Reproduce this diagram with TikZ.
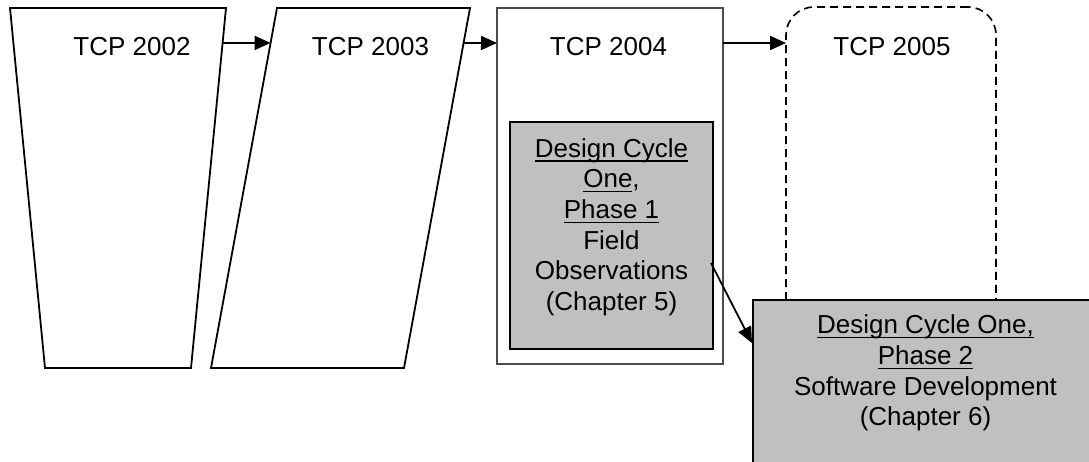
\documentclass[tikz,border=0pt]{standalone}
\usepackage{fontspec}
\setmainfont{Liberation Sans}
\usetikzlibrary{arrows.meta,calc}
\definecolor{panel}{HTML}{C0C0C0}
% underline at a fixed depth below the baseline
\newcommand\ulbox[1]{\sbox0{#1}\rlap{\rule[-4.6pt]{\wd0}{1.4pt}}\usebox0}
\begin{document}
\begin{tikzpicture}[x=1pt,y=-1pt,
  outline/.style={draw=black,line width=1.8pt,line join=miter},
  arr/.style={line width=1.8pt,-{Triangle[length=16pt,width=14pt]}},
  lbl/.style={font=\fontsize{26}{30.7}\selectfont,inner sep=0pt},
  panelbox/.style={draw=black,line width=1.8pt,fill=panel,inner sep=0pt,outer sep=0pt},
]
\clip (0,0) rectangle (1089,462);
\fill[white] (0,0) rectangle (1089,462);

% TCP 2002: trapezium, wide at the top
\coordinate (a1) at (10,8);
\coordinate (a2) at (226,8);
\coordinate (a3) at (191,368);
\coordinate (a4) at (45,368);
\draw[outline] (a1)--(a2)--(a3)--(a4)--cycle;

% TCP 2003: parallelogram leaning right
\coordinate (b1) at (277,8);
\coordinate (b2) at (470,8);
\coordinate (b3) at (404,368);
\coordinate (b4) at (211,368);
\draw[outline] (b1)--(b2)--(b3)--(b4)--cycle;

% TCP 2004: plain frame
\node[draw=black!70,line width=1.3pt,minimum width=226pt,minimum height=356pt,
      inner sep=0pt,outer sep=0pt] (c) at (610,186) {};

% TCP 2005: dashed rounded frame
\node[draw=black,line width=1.6pt,dash pattern=on 8pt off 5pt,rounded corners=28pt,
      minimum width=210pt,minimum height=433pt,inner sep=0pt,outer sep=0pt] (e) at (891,223.5) {};

% year labels
\node[lbl,anchor=base] (t2002) at (132,56) {TCP 2002};
\node[lbl,anchor=base] (t2003) at (370.5,56) {TCP 2003};
\node[lbl,anchor=base] (t2004) at (608.5,56) {TCP 2004};
\node[lbl,anchor=base] (t2005) at (892,56) {TCP 2005};

% connectors along the top row
\draw[arr] ($(a2)!0.097!(a3)$) -- ($(b1)!0.097!(b4)$);
\draw[arr] ($(b2)!0.097!(b3)$) -- ($(c.north west)+(0,35)$);
\draw[arr] ($(c.north east)+(0,35)$) -- ($(e.north west)+(0,36)$);

% phase 1 panel
\node[panelbox,minimum width=203pt,minimum height=227pt] (d) at (611.5,235.5) {};
\node[lbl,align=center,anchor=north] (dtxt) at (611.5,138) {\ulbox{Design Cycle}\\\ulbox{One},\\\ulbox{Phase 1}\\Field\\Observations\\(Chapter 5)};

% phase 2 panel
\node[panelbox,minimum width=357pt,minimum height=190pt] (f) at (931.5,395) {};
\node[lbl,align=center,anchor=north] (ftxt) at (925.5,314.7) {\ulbox{Design Cycle One,}\\\ulbox{Phase 2}\\Software Development\\(Chapter 6)};

% phase 1 leads to phase 2
\draw[arr] ($(d.north east)+(-2,141)$) -- ($(f.north west)+(-1,43)$);
\end{tikzpicture}
\end{document}
